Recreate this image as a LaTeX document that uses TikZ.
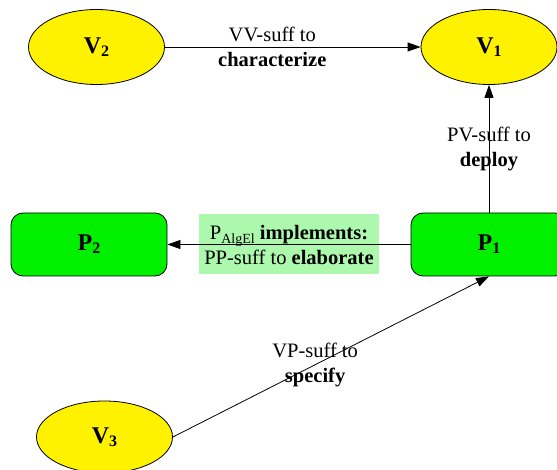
\documentclass[tikz,border=0pt]{standalone}
\usepackage{fontspec}
\setmainfont{Liberation Serif}
\usetikzlibrary{shapes.geometric,arrows.meta}
\definecolor{pgreen}{HTML}{00F000}
\definecolor{lgreen}{HTML}{ACF8AC}
\newcommand\nsub[1]{\raisebox{-3pt}{\fontsize{16}{16}\selectfont #1}}
\newcommand\lsub[1]{\raisebox{-4pt}{\fontsize{14}{14}\selectfont #1}}
\begin{document}
\begin{tikzpicture}[x=1pt,y=-1pt,
  vnode/.style={ellipse,draw=black,fill=yellow,line width=0.8pt,minimum width=136pt,minimum height=75pt,inner sep=0pt,font=\fontsize{24}{24}\selectfont\bfseries},
  pnode/.style={rectangle,rounded corners=12pt,draw=black,fill=pgreen,line width=0.8pt,minimum width=156pt,minimum height=63pt,inner sep=0pt,font=\fontsize{24}{24}\selectfont\bfseries},
  conn/.style={draw=black,line width=0.8pt,-{Triangle[length=13pt,width=9pt]}},
  elabel/.style={font=\fontsize{20.5}{25}\selectfont,align=center,inner sep=0pt}]
\useasboundingbox (0,0) rectangle (557,470);
\clip (0,0) rectangle (557,470);
\node[vnode] (V2) at (96.5,47) {V\nsub{2}};
\node[vnode] (V1) at (489,47) {V\nsub{1}};
\node[vnode,minimum height=72pt] (V3) at (104.5,437) {V\nsub{3}};
\node[pnode] (P2) at (89,244.5) {P\nsub{2}};
\node[pnode] (P1) at (489,244.5) {P\nsub{1}};
\draw[conn] (V2) -- node[elabel,pos=0.42]{VV-suff to\\\textbf{characterize}} (V1);
\draw[conn] (P1) -- node[elabel,pos=0.5]{PV-suff to\\\textbf{deploy}} (V1);
\path (P1) -- node[elabel,fill=lgreen,minimum width=180pt,minimum height=60pt]{P\lsub{AlgEl} \textbf{implements:}\\PP-suff to \textbf{elaborate}} (P2);
\draw[conn] (P1) -- (P2);
\draw[conn] (V3.east) -- node[elabel,pos=0.45]{VP-suff to\\\textbf{specify}} (P1.south);
\end{tikzpicture}
\end{document}
